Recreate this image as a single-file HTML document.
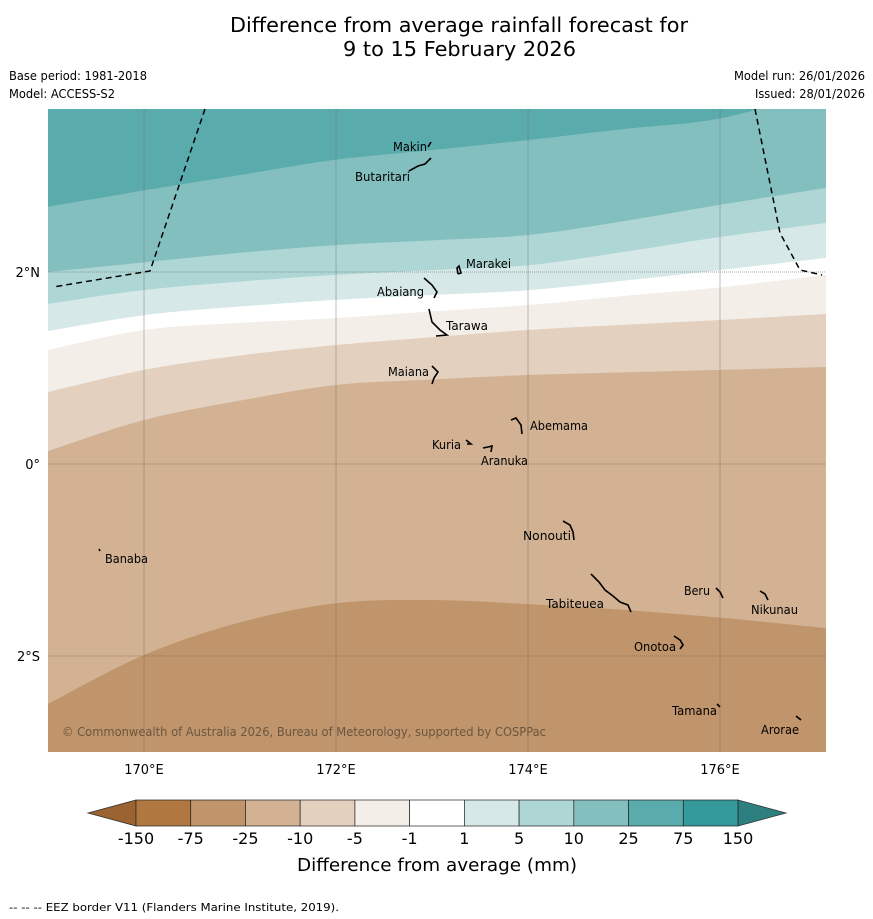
<!DOCTYPE html>
<html><head><meta charset="utf-8"><style>
html,body{margin:0;padding:0;background:#fff;}
svg{display:block;font-family:"DejaVu Sans","Liberation Sans",sans-serif;}
</style></head><body>
<svg id="chart" width="873" height="919" viewBox="0 0 873 919" xmlns="http://www.w3.org/2000/svg">
<text x="230" y="32" font-size="20" textLength="458" lengthAdjust="spacingAndGlyphs">Difference from average rainfall forecast for</text>
<text x="343" y="56" font-size="20" textLength="233" lengthAdjust="spacingAndGlyphs">9 to 15 February 2026</text>
<text x="9" y="80" font-size="12" textLength="138" lengthAdjust="spacingAndGlyphs">Base period: 1981-2018</text>
<text x="9" y="98" font-size="12" textLength="106" lengthAdjust="spacingAndGlyphs">Model: ACCESS-S2</text>
<text x="734" y="80" font-size="12" textLength="131" lengthAdjust="spacingAndGlyphs">Model run: 26/01/2026</text>
<text x="755" y="98" font-size="12" textLength="110" lengthAdjust="spacingAndGlyphs">Issued: 28/01/2026</text>
<defs><clipPath id="mapclip"><rect x="48" y="109" width="778" height="643"/></clipPath></defs>
<g id="map" clip-path="url(#mapclip)"></g>
<g id="overlay"></g>
<g id="cbar"></g>
<text x="297" y="871" font-size="18" textLength="280" lengthAdjust="spacingAndGlyphs">Difference from average (mm)</text>
<text x="9" y="911" font-size="11" textLength="330" lengthAdjust="spacingAndGlyphs">--  --  -- EEZ border V11 (Flanders Marine Institute, 2019).</text>
</svg>
<script>
// band boundary data: latitude (deg) of each contour at given longitudes
const lons = [169, 170, 171, 172, 173, 174, 175, 176, 177.1];
const bound75 = [2.68, 2.85, 3.01, 3.17, 3.27, 3.375, 3.49, 3.6, 3.9];
const bound25 = [2.0, 2.10, 2.20, 2.28, 2.33, 2.385, 2.53, 2.70, 2.875];
const bound10 = [1.667, 1.8125, 1.90, 1.97, 2.02, 2.07, 2.21, 2.365, 2.51];
const bound5 = [1.385, 1.55, 1.64, 1.71, 1.76, 1.81, 1.91, 2.02, 2.146];
const bound1 = [1.1875, 1.396, 1.47, 1.52, 1.59, 1.656, 1.75, 1.84, 1.97];
const boundM1 = [0.75, 0.98, 1.13, 1.24, 1.32, 1.396, 1.45, 1.5, 1.5625];
const boundM5 = [0.135, 0.458, 0.66, 0.823, 0.88, 0.927, 0.955, 0.98, 1.01];
const boundM10 = [-2.5, -1.99, -1.65, -1.45, -1.417, -1.46, -1.52, -1.60, -1.71];
const bandColors = ["#5aabab", "#84bfbf", "#aed6d5", "#d6e9e8", "#ffffff", "#f3eee8", "#e3d0bf", "#d2b293", "#c0956b"];
const cbarLabels = ["-150","-75","-25","-10","-5","-1","1","5","10","25","75","150"];
const cbarColors = ["#b07840","#c0956b","#d2b293","#e3d0bf","#f3eee8","#ffffff","#d6e9e8","#aed6d5","#84bfbf","#5aabab","#34999a"];
const lonTicks = [170, 172, 174, 176];
const latTicks = [2, 0, -2];
const latTickLabels = ["2°N", "0°", "2°S"];
const islands = [
 ["Makin",393,151,34,[[428,147],[431,142]]],
 ["Butaritari",355,181,55,[[409,171],[418,166],[425,164],[431,158]]],
 ["Marakei",466,268,45,[[458,274],[457,268],[459,266],[461,273],[458,274]]],
 ["Abaiang",377,296,47,[[424,278],[432,285],[437,292],[434,298]]],
 ["Tarawa",446,330,42,[[429,309],[432,322],[440,330],[447,335],[436,336]]],
 ["Maiana",388,376,41,[[432,366],[438,372],[434,378],[432,384]]],
 ["Abemama",530,430,58,[[511,420],[516,418],[521,425],[522,434]]],
 ["Kuria",432,449,29,[[466,440],[471,444],[467,444]]],
 ["Aranuka",481,465,47,[[483,448],[488,447],[492,446],[491,452]]],
 ["Nonouti",523,540,48,[[563,521],[570,525],[573,532],[574,540]]],
 ["Banaba",105,563,43,[[99,549],[100,551]]],
 ["Beru",684,595,26,[[716,588],[720,592],[723,598]]],
 ["Tabiteuea",546,608,58,[[591,574],[599,582],[605,590],[613,596],[620,602],[628,605],[631,612]]],
 ["Nikunau",751,614,47,[[760,591],[765,594],[768,600]]],
 ["Onotoa",634,651,42,[[674,636],[680,640],[683,645],[680,649]]],
 ["Tamana",672,715,45,[[717,704],[720,707]]],
 ["Arorae",761,734,38,[[796,716],[801,720]]]
];
const NS="http://www.w3.org/2000/svg";
const xOf = lon => 144 + (lon - 170) * 96;
const yOf = lat => 464 - lat * 96;
function mk(tag, attrs, parent){const e=document.createElementNS(NS,tag);for(const k in attrs)e.setAttribute(k,attrs[k]);parent.appendChild(e);return e;}
function curve(arr){
 const p = lons.map((l,i)=>[xOf(l), yOf(arr[i])]);
 let d = "M"+p[0][0]+","+p[0][1];
 for(let i=0;i<p.length-1;i++){
  const p0=p[Math.max(0,i-1)],p1=p[i],p2=p[i+1],p3=p[Math.min(p.length-1,i+2)];
  const c1=[p1[0]+(p2[0]-p0[0])/6,p1[1]+(p2[1]-p0[1])/6];
  const c2=[p2[0]-(p3[0]-p1[0])/6,p2[1]-(p3[1]-p1[1])/6];
  d+=" C"+c1[0]+","+c1[1]+" "+c2[0]+","+c2[1]+" "+p2[0]+","+p2[1];
 }
 return d;
}
const map=document.getElementById("map");
const bg=mk("rect",{x:40,y:100,width:800,height:660,fill:bandColors[0]},map);


const bounds=[bound75,bound25,bound10,bound5,bound1,boundM1,boundM5,boundM10];
const bandNames=['band-25-75','band-10-25','band-5-10','band-1-5','band-neutral','band-minus1-minus5','band-minus5-minus10','band-minus10-minus25'];
bounds.forEach((b,i)=>{
 const d=curve(b)+" L"+(xOf(lons[lons.length-1])+20)+","+yOf(b[b.length-1])+" L"+(xOf(lons[lons.length-1])+20)+",800 L0,800 L0,"+yOf(b[0])+" Z";
 const pth=mk("path",{d:d,fill:bandColors[i+1]},map);
 
 
});
const ov=document.getElementById("overlay");
lonTicks.forEach(l=>{
 const ln=mk("line",{x1:xOf(l),x2:xOf(l),y1:109,y2:752,stroke:"#777","stroke-width":0.6,"stroke-opacity":0.8},ov);
 
 
 const t=mk("text",{x:xOf(l),y:774,"font-size":13,"text-anchor":"middle"},ov);
 t.textContent=l+"°E";
 
 
});
latTicks.forEach((l,i)=>{
 const ln=mk("line",{x1:48,x2:826,y1:yOf(l),y2:yOf(l),stroke:"#555","stroke-width":0.6,"stroke-dasharray":"1,1"},ov);
 
 
 const t=mk("text",{x:40,y:yOf(l)+5,"font-size":13,"text-anchor":"end"},ov);
 t.textContent=latTickLabels[i];
 
 
});
const e1=mk("polyline",{points:"205,109 150,271 53,287",fill:"none",stroke:"#000","stroke-width":1.5,"stroke-dasharray":"6,4"},ov);


const e2=mk("polyline",{points:"755,109 780,233 800,270 822,275",fill:"none",stroke:"#000","stroke-width":1.5,"stroke-dasharray":"6,4"},ov);


islands.forEach(is=>{
 const pl=mk("polyline",{points:is[4].map(p=>p.join(",")).join(" "),fill:"none",stroke:"#000","stroke-width":1.6},ov);
 
 
 const t=mk("text",{x:is[1],y:is[2],"font-size":12,textLength:is[3],lengthAdjust:"spacingAndGlyphs"},ov);
 t.textContent=is[0];
 
 
});
const cp=mk("text",{x:62,y:736,"font-size":12,fill:"#6b5640",textLength:484,lengthAdjust:"spacingAndGlyphs"},ov);
cp.textContent="© Commonwealth of Australia 2026, Bureau of Meteorology, supported by COSPPac";


// colorbar
const cb=document.getElementById("cbar");
const x0=136,x1=738,yT=800,yB=826,w=(x1-x0)/cbarColors.length;
const lt=mk("polygon",{points:"88,813 "+x0+","+yT+" "+x0+","+yB,fill:"#9a6330",stroke:"#333","stroke-width":0.8},cb);


const rt=mk("polygon",{points:"786,813 "+x1+","+yT+" "+x1+","+yB,fill:"#2e7f7f",stroke:"#333","stroke-width":0.8},cb);


cbarColors.forEach((c,i)=>{
 const r=mk("rect",{x:x0+i*w,y:yT,width:w,height:yB-yT,fill:c,stroke:"#222","stroke-width":0.7},cb);
 
 
});
cbarLabels.forEach((l,i)=>{
 const t=mk("text",{x:x0+i*w,y:844,"font-size":16,"text-anchor":"middle"},cb);
 t.textContent=l;
 
 
});
</script>
</body></html>
